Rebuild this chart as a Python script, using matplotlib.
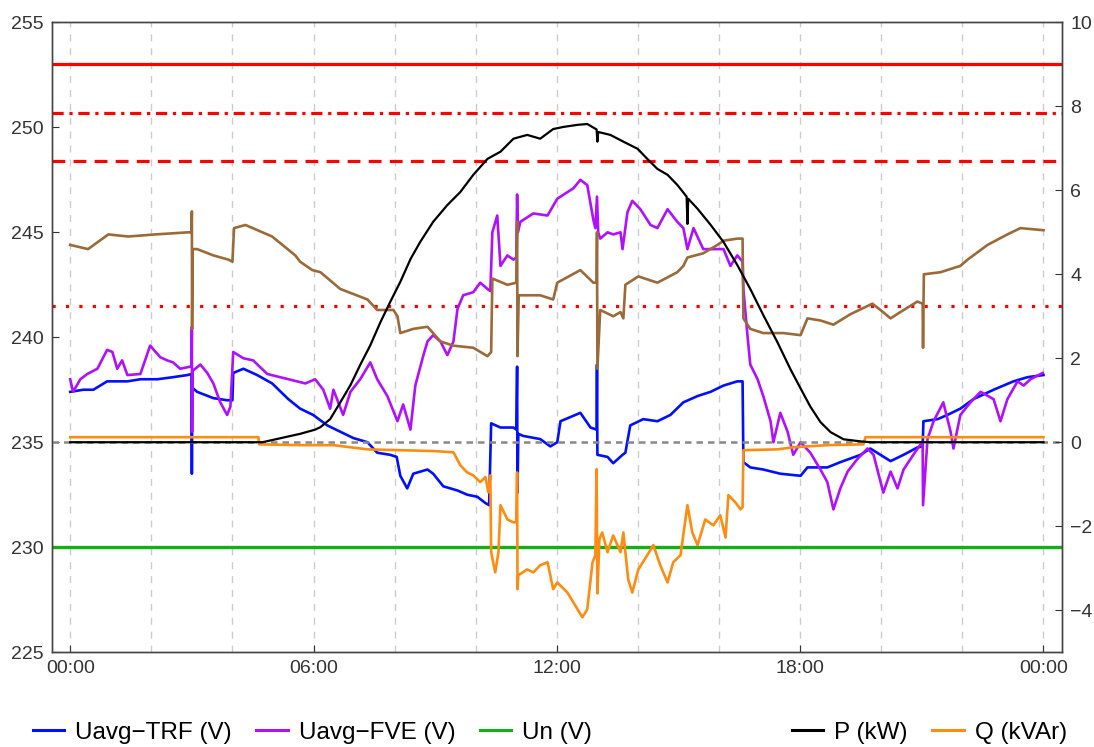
import numpy as np
import matplotlib
matplotlib.use("Agg")
import matplotlib.pyplot as plt
from matplotlib.lines import Line2D

# time in hours of the day, voltages in V, power in kW / kVAr
u_other = np.array([
    (0, 244.4), (0.44, 244.2), (0.94, 244.9), (1.43, 244.8), (2.10, 244.9), (2.91, 245.0),
    (2.99, 245.0), (3.00, 246.0), (3.005, 240.4), (3.02, 244.2), (3.13, 244.2), (3.53, 243.9),
    (3.90, 243.7), (4.00, 243.6), (4.04, 245.2), (4.32, 245.35), (4.98, 244.8), (5.55, 243.9),
    (5.67, 243.6), (5.97, 243.2), (6.17, 243.1), (6.66, 242.3), (7.33, 241.8), (7.57, 241.3),
    (7.97, 241.3), (8.07, 241.0), (8.14, 240.2), (8.46, 240.4), (8.81, 240.5), (9.13, 239.8),
    (9.45, 239.6), (9.94, 239.5), (10.29, 239.1), (10.38, 239.3), (10.41, 242.8), (10.78, 242.5),
    (11.00, 242.6), (11.02, 245.5), (11.03, 239.1), (11.06, 242.0), (11.59, 242.0), (11.91, 241.8),
    (12.01, 242.6), (12.58, 243.2), (12.90, 242.6), (12.98, 242.6), (12.99, 245.0), (13.00, 238.5),
    (13.07, 241.3), (13.39, 241.0), (13.57, 241.2), (13.64, 240.9), (13.69, 242.5), (14.01, 242.9),
    (14.48, 242.6), (14.97, 243.1), (15.12, 243.4), (15.22, 243.8), (15.61, 244.0), (15.96, 244.4),
    (16.11, 244.6), (16.45, 244.7), (16.58, 244.7), (16.60, 240.9), (16.77, 240.4), (17.09, 240.2),
    (17.59, 240.2), (18.01, 240.1), (18.18, 240.9), (18.50, 240.8), (18.82, 240.6), (19.24, 241.1),
    (19.78, 241.6), (19.98, 241.3), (20.23, 240.9), (20.47, 241.2), (20.89, 241.7), (21.02, 241.6),
    (21.03, 239.5), (21.05, 243.0), (21.46, 243.1), (21.95, 243.4), (22.13, 243.7), (22.62, 244.4),
    (23.11, 244.9), (23.43, 245.2), (24.0, 245.1)])

u_trf = np.array([
    (0, 237.4), (0.32, 237.5), (0.57, 237.5), (0.91, 237.9), (1.41, 237.9), (1.73, 238.0),
    (2.15, 238.0), (2.54, 238.1), (2.89, 238.2), (2.99, 238.25), (3.00, 233.5), (3.01, 237.6),
    (3.13, 237.4), (3.53, 237.1), (3.87, 237.0), (4.00, 237.0), (4.02, 238.3), (4.27, 238.5),
    (4.61, 238.2), (4.98, 237.8), (5.38, 237.05), (5.67, 236.6), (5.99, 236.3), (6.34, 235.8),
    (6.66, 235.5), (6.98, 235.2), (7.33, 235.0), (7.57, 234.5), (7.89, 234.4), (8.05, 234.3),
    (8.14, 233.4), (8.31, 232.8), (8.46, 233.5), (8.81, 233.7), (8.95, 233.5), (9.20, 232.9),
    (9.55, 232.7), (9.79, 232.5), (10.04, 232.4), (10.24, 232.1), (10.33, 232.0), (10.38, 235.9),
    (10.61, 235.7), (10.93, 235.7), (11.00, 235.6), (11.02, 238.6), (11.03, 232.6), (11.05, 235.4),
    (11.17, 235.3), (11.59, 235.15), (11.84, 234.8), (12.01, 235.0), (12.09, 236.0), (12.58, 236.4),
    (12.83, 235.7), (12.98, 235.6), (12.99, 238.7), (13.00, 234.4), (13.25, 234.3), (13.39, 234.0),
    (13.62, 234.4), (13.69, 234.5), (13.81, 235.8), (14.13, 236.1), (14.48, 236.0), (14.80, 236.3),
    (15.12, 236.9), (15.47, 237.2), (15.79, 237.4), (16.11, 237.7), (16.45, 237.9), (16.58, 237.9),
    (16.60, 234.05), (16.77, 233.8), (17.09, 233.7), (17.51, 233.5), (18.01, 233.4), (18.18, 233.8),
    (18.67, 233.8), (18.99, 234.05), (19.49, 234.4), (19.73, 234.7), (19.98, 234.4), (20.23, 234.1),
    (20.55, 234.4), (20.89, 234.75), (21.02, 234.8), (21.04, 236.0), (21.39, 236.1), (21.63, 236.3),
    (21.95, 236.6), (22.27, 237.05), (22.77, 237.5), (23.26, 237.9), (23.61, 238.1), (24.0, 238.2)])

u_fve = np.array([
    (0, 238.0), (0.07, 237.4), (0.25, 238.0), (0.42, 238.25), (0.67, 238.5), (0.91, 239.4),
    (1.04, 239.3), (1.16, 238.5), (1.28, 238.9), (1.41, 238.2), (1.73, 238.25), (1.97, 239.6),
    (2.22, 239.05), (2.39, 238.9), (2.54, 238.8), (2.71, 238.5), (2.96, 238.6), (2.99, 238.6),
    (3.00, 240.5), (3.005, 235.5), (3.02, 238.4), (3.21, 238.7), (3.38, 238.3), (3.53, 237.8),
    (3.70, 236.9), (3.87, 236.3), (3.95, 236.7), (4.02, 239.3), (4.27, 239.0), (4.51, 238.9),
    (4.86, 238.25), (5.38, 238.0), (5.80, 237.8), (6.04, 238.0), (6.24, 237.5), (6.41, 236.6),
    (6.49, 237.5), (6.73, 236.3), (6.91, 237.4), (7.15, 238.0), (7.40, 238.8), (7.57, 238.0),
    (7.82, 237.2), (8.07, 236.0), (8.21, 236.8), (8.39, 235.6), (8.51, 237.7), (8.71, 239.15),
    (8.81, 239.8), (8.95, 240.1), (9.13, 239.8), (9.30, 239.15), (9.45, 239.8), (9.55, 241.35),
    (9.69, 242.0), (9.94, 242.15), (10.11, 242.6), (10.29, 242.3), (10.36, 242.2), (10.41, 245.0),
    (10.53, 245.8), (10.61, 243.4), (10.78, 243.9), (10.93, 243.7), (11.00, 243.8), (11.02, 246.8),
    (11.04, 245.0), (11.10, 245.5), (11.42, 245.9), (11.77, 245.8), (12.01, 246.6), (12.41, 247.1),
    (12.58, 247.5), (12.75, 247.25), (12.90, 245.6), (12.95, 245.2), (12.99, 246.7), (13.02, 245.0),
    (13.07, 244.7), (13.25, 245.0), (13.39, 244.9), (13.57, 245.0), (13.62, 244.2), (13.74, 245.95),
    (13.86, 246.5), (14.06, 246.1), (14.31, 245.35), (14.48, 245.2), (14.73, 246.1), (14.97, 245.5),
    (15.12, 245.2), (15.22, 244.2), (15.37, 245.2), (15.61, 244.2), (15.86, 244.2), (16.11, 244.2),
    (16.28, 243.4), (16.45, 243.9), (16.58, 243.6), (16.60, 242.3), (16.70, 240.1), (16.77, 238.7),
    (16.95, 238.0), (17.09, 237.2), (17.27, 236.0), (17.34, 235.0), (17.51, 236.4), (17.69, 235.5),
    (17.83, 234.4), (18.01, 235.0), (18.25, 234.5), (18.50, 233.7), (18.67, 233.1), (18.82, 231.8),
    (18.99, 232.8), (19.17, 233.6), (19.41, 234.2), (19.66, 234.7), (19.81, 234.4), (20.05, 232.6),
    (20.23, 233.6), (20.40, 232.8), (20.55, 233.7), (20.79, 234.4), (20.97, 234.9), (21.02, 235.0),
    (21.03, 232.0), (21.14, 235.15), (21.29, 236.0), (21.53, 236.9), (21.71, 235.5), (21.78, 234.7),
    (21.95, 236.3), (22.20, 236.9), (22.45, 237.4), (22.77, 237.05), (22.94, 236.0), (23.11, 237.05),
    (23.36, 237.9), (23.51, 237.7), (23.68, 238.0), (23.98, 238.3)])

p_kw = np.array([
    (0, 0.0), (4.74, 0.0), (5.67, 0.2), (6.04, 0.3), (6.17, 0.36), (6.41, 0.55), (6.66, 0.95),
    (6.91, 1.36), (7.15, 1.84), (7.40, 2.31), (7.65, 2.86), (7.89, 3.34), (8.14, 3.82), (8.39, 4.36),
    (8.63, 4.77), (8.95, 5.25), (9.30, 5.65), (9.62, 5.96), (9.94, 6.37), (10.29, 6.75), (10.61, 6.92),
    (10.93, 7.23), (11.27, 7.32), (11.59, 7.23), (11.91, 7.46), (12.16, 7.51), (12.51, 7.56),
    (12.75, 7.58), (12.98, 7.45), (13.00, 7.16), (13.02, 7.39), (13.32, 7.32), (13.64, 7.16),
    (13.99, 6.99), (14.23, 6.75), (14.48, 6.51), (14.73, 6.37), (14.97, 6.13), (15.20, 5.85),
    (15.22, 5.2), (15.24, 5.8), (15.47, 5.56), (15.79, 5.18), (16.11, 4.77), (16.45, 4.22),
    (16.77, 3.65), (17.09, 3.03), (17.44, 2.38), (17.76, 1.74), (18.0, 1.3), (18.25, 0.85),
    (18.50, 0.48), (18.75, 0.24), (19.07, 0.07), (19.49, 0.02), (19.73, 0.0), (24.0, 0.0)])

q_kvar = np.array([
    (0, 0.12), (4.64, 0.12), (4.66, -0.05), (5.67, -0.07), (6.49, -0.07), (7.33, -0.17),
    (8.14, -0.19), (8.95, -0.21), (9.45, -0.24), (9.62, -0.55), (9.79, -0.72), (9.94, -0.79),
    (10.11, -0.95), (10.24, -0.83), (10.31, -1.19), (10.36, -0.79), (10.38, -2.62), (10.48, -3.1),
    (10.56, -2.62), (10.61, -1.5), (10.78, -1.84), (10.93, -1.91), (11.00, -1.9), (11.02, -0.72),
    (11.03, -3.5), (11.05, -3.17), (11.27, -3.03), (11.42, -3.1), (11.59, -2.93), (11.77, -2.86),
    (11.91, -3.5), (12.01, -3.34), (12.26, -3.58), (12.51, -3.98), (12.63, -4.17), (12.75, -3.98),
    (12.88, -2.86), (12.95, -2.69), (12.98, -0.64), (13.00, -3.6), (13.05, -2.3), (13.12, -2.15),
    (13.25, -2.62), (13.39, -2.22), (13.57, -2.62), (13.64, -2.15), (13.76, -3.27), (13.86, -3.58),
    (14.01, -3.03), (14.23, -2.69), (14.38, -2.45), (14.55, -2.93), (14.73, -3.34), (14.87, -2.86),
    (15.05, -2.69), (15.22, -1.5), (15.34, -2.15), (15.47, -2.45), (15.66, -1.84), (15.86, -1.98),
    (16.03, -1.74), (16.16, -2.27), (16.23, -1.26), (16.40, -1.43), (16.53, -1.6), (16.58, -1.55),
    (16.60, -0.19), (17.44, -0.17), (17.83, -0.12), (18.67, -0.07), (19.56, -0.05), (19.61, 0.12),
    (24.0, 0.12)])

u_n = 230.0
limits = [253.0, 250.7, 248.4, 241.5]   # +10 %, +9 %, +8 %, +5 % of Un
limit_styles = ['-', (0, (3.5, 1.8, 1, 1.8)), (0, (4, 2.6)), (0, (1, 3.2))]

x_ticks = [0, 6, 12, 18, 24]
x_labels = ['00:00', '06:00', '12:00', '18:00', '00:00']

plt.rcParams['font.family'] = ['Liberation Sans', 'DejaVu Sans']

fig = plt.figure(figsize=(10.94, 7.47), dpi=100)
ax = fig.add_axes([0.0475, 0.127, 0.923, 0.843])
ax2 = ax.twinx()

for i in range(len(limits)):
    ax.axhline(limits[i], color='red', lw=2.3, ls=limit_styles[i], zorder=2)
ax.axhline(u_n, color='#12b012', lw=2.4, zorder=2)
ax2.axhline(0, color='#888888', lw=1.8, ls=(0, (2.6, 2.0)), zorder=1)

ax.plot(u_trf[:, 0], u_trf[:, 1], color='#0010ff', lw=1.9, zorder=3)
ax.plot(u_fve[:, 0], u_fve[:, 1], color='#b010ff', lw=1.9, zorder=4)
ax.plot(u_other[:, 0], u_other[:, 1], color='#9c6a38', lw=1.9, zorder=5)
ax2.plot(q_kvar[:, 0], q_kvar[:, 1], color='#ff8c10', lw=1.9, zorder=3)
ax2.plot(p_kw[:, 0], p_kw[:, 1], color='black', lw=1.6, zorder=4)

ax.set_xlim(-0.45, 24.45)
ax.set_ylim(225, 255)
ax2.set_ylim(-5, 10)
ax.set_xticks(x_ticks)
ax.set_xticklabels(x_labels)
ax.set_xticks(range(0, 25, 2), minor=True)
ax.set_yticks(range(225, 256, 5))
ax2.set_yticks(range(-4, 11, 2))
ax.grid(True, which='both', axis='x', color='#cccccc', lw=1.0, ls=(0, (5, 5)))
ax.set_axisbelow(True)

ax.tick_params(direction='in', length=5, labelsize=14, colors='#333333', pad=6)
ax.tick_params(which='minor', length=0)
ax2.tick_params(direction='in', length=5, labelsize=14, colors='#333333', pad=6)
for a in (ax, ax2):
    for s in a.spines.values():
        s.set_color('#444444')
        s.set_linewidth(1.0)

h1 = [Line2D([], [], color='#0010ff', lw=2.2), Line2D([], [], color='#b010ff', lw=2.2),
      Line2D([], [], color='#12b012', lw=2.2)]
h2 = [Line2D([], [], color='black', lw=2.2), Line2D([], [], color='#ff8c10', lw=2.2)]
leg_kw = dict(ncol=3, frameon=False, fontsize=17.5, handlelength=1.3, handletextpad=0.45,
              columnspacing=1.0, borderaxespad=0.0, borderpad=0.0)
fig.legend(h1, ['Uavg−TRF (V)', 'Uavg−FVE (V)', 'Un (V)'], loc='center left',
           bbox_to_anchor=(0.03, 0.019), **leg_kw)
leg_kw['ncol'] = 2
fig.legend(h2, ['P (kW)', 'Q (kVAr)'], loc='center right',
           bbox_to_anchor=(0.975, 0.019), **leg_kw)

fig.savefig('out.png', dpi=100)
